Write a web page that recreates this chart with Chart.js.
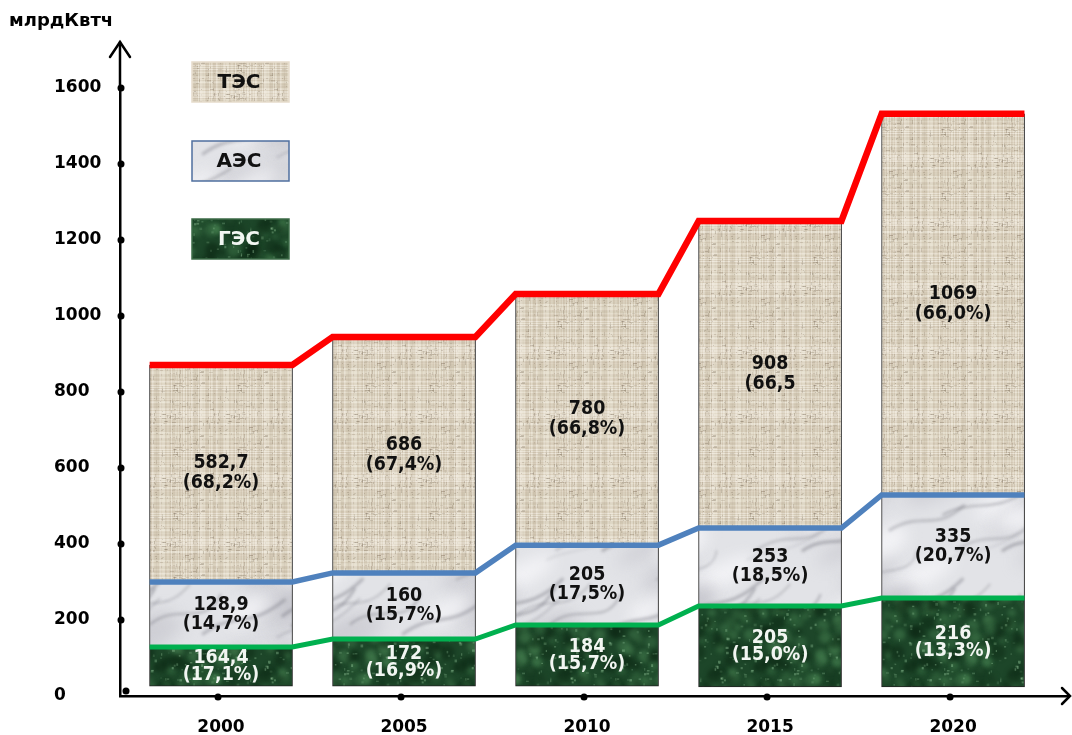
<!DOCTYPE html>
<html>
<head>
<meta charset="utf-8">
<script src="https://cdn.jsdelivr.net/npm/chart.js@4.4.0/dist/chart.umd.min.js"></script>
<style>
  html, body { margin: 0; padding: 0; background: #fff; }
</style>
</head>
<body>
<canvas id="myChart" width="1072" height="735"></canvas>
<script>
// categories
const years = ['2000', '2005', '2010', '2015', '2020'];

// stack boundaries as drawn in the picture (y axis units)
const barBase    = [26, 26, 26, 24, 24];
const hydroTop   = [129, 150, 187, 237, 258];
const nuclearTop = [300, 324, 397, 442, 529];
const thermalTop = [871, 945, 1058, 1250, 1532];

// texts written on the segments
const thermalValues = ['582,7', '686', '780', '908', '1069'];
const thermalShares = ['(68,2%)', '(67,4%)', '(66,8%)', '(66,5', '(66,0%)'];
const nuclearValues = ['128,9', '160', '205', '253', '335'];
const nuclearShares = ['(14,7%)', '(15,7%)', '(17,5%)', '(18,5%)', '(20,7%)'];
const hydroValues   = ['164,4', '172', '184', '205', '216'];
const hydroShares   = ['(17,1%)', '(16,9%)', '(15,7%)', '(15,0%)', '(13,3%)'];

const yTicks = [0, 200, 400, 600, 800, 1000, 1200, 1400, 1600];

const FONT = '"DejaVu Sans", Verdana, sans-serif';
const HALF = 0.39; // half bar width in category units

// ---- textures ----
let seed = 12345;
function rnd() {
    seed |= 0; seed = seed + 0x6D2B79F5 | 0;
    let t = Math.imul(seed ^ seed >>> 15, 1 | seed);
    t = t + Math.imul(t ^ t >>> 7, 61 | t) ^ t;
    return ((t ^ t >>> 14) >>> 0) / 4294967296;
}
function mk(w, h) {
    const c = document.createElement('canvas');
    c.width = w; c.height = h;
    return c;
}
// draw a shape 9 times so the tile wraps without seams
function wrapped(g, w, h, draw) {
    for (let dx = -w; dx <= w; dx += w) {
        for (let dy = -h; dy <= h; dy += h) {
            g.save();
            g.translate(dx, dy);
            draw();
            g.restore();
        }
    }
}
function linenTile() {
    const c = mk(64, 64), g = c.getContext('2d');
    g.fillStyle = '#dcd2bf';
    g.fillRect(0, 0, 64, 64);
    for (let y = 0; y < 64; y++) {
        if (rnd() < 0.5) g.fillStyle = 'rgba(255,253,246,' + (0.1 + rnd() * 0.3) + ')';
        else g.fillStyle = 'rgba(150,135,110,' + (0.03 + rnd() * 0.1) + ')';
        g.fillRect(0, y, 64, 1);
    }
    for (let x = 0; x < 64; x++) {
        if (rnd() < 0.5) g.fillStyle = 'rgba(255,253,246,' + (0.08 + rnd() * 0.25) + ')';
        else g.fillStyle = 'rgba(150,135,110,' + (0.03 + rnd() * 0.1) + ')';
        g.fillRect(x, 0, 1, 64);
    }
    for (let i = 0; i < 220; i++) {
        g.fillStyle = 'rgba(120,105,85,' + (0.08 + rnd() * 0.22) + ')';
        const horiz = rnd() < 0.5;
        g.fillRect(Math.floor(rnd() * 64), Math.floor(rnd() * 64), horiz ? 1 + Math.floor(rnd() * 4) : 1, horiz ? 1 : 1 + Math.floor(rnd() * 4));
    }
    return c;
}
function greyMarbleTile() {
    const W = 200, H = 160;
    const c = mk(W, H), g = c.getContext('2d');
    g.fillStyle = '#e2e3e7';
    g.fillRect(0, 0, W, H);
    g.filter = 'blur(8px)';
    for (let i = 0; i < 18; i++) {
        const col = rnd() < 0.5 ? 'rgba(195,195,203,0.55)' : 'rgba(250,250,252,0.75)';
        const x = rnd() * W, y = rnd() * H, rx = 15 + rnd() * 30, ry = 6 + rnd() * 12;
        wrapped(g, W, H, () => {
            g.fillStyle = col;
            g.beginPath();
            g.ellipse(x, y, rx, ry, -0.5, 0, Math.PI * 2);
            g.fill();
        });
    }
    g.filter = 'blur(1.5px)';
    for (let i = 0; i < 12; i++) {
        const col = 'rgba(105,105,115,' + (0.18 + rnd() * 0.3) + ')';
        const lw = 1 + rnd() * 3;
        const x0 = rnd() * W, y0 = rnd() * H;
        const k = [rnd(), rnd(), rnd(), rnd(), rnd(), rnd(), rnd()];
        wrapped(g, W, H, () => {
            g.strokeStyle = col;
            g.lineWidth = lw;
            g.beginPath();
            g.moveTo(x0, y0);
            g.bezierCurveTo(x0 + 20 + k[0] * 20, y0 - 10 - k[1] * 15, x0 + 40 + k[2] * 20, y0 - 5 + k[3] * 10, x0 + 60 + k[4] * 30, y0 - 25 - k[5] * 15);
            g.stroke();
        });
    }
    g.filter = 'none';
    return c;
}
function greenMarbleTile() {
    const W = 150, H = 150;
    const c = mk(W, H), g = c.getContext('2d');
    g.fillStyle = '#1d4629';
    g.fillRect(0, 0, W, H);
    g.filter = 'blur(2px)';
    const blob = (col, r0, r1, n) => {
        for (let i = 0; i < n; i++) {
            const a = col + (0.2 + rnd() * 0.3) + ')';
            const x = rnd() * W, y = rnd() * H, r = r0 + rnd() * r1;
            wrapped(g, W, H, () => {
                g.fillStyle = a;
                g.beginPath();
                g.arc(x, y, r, 0, Math.PI * 2);
                g.fill();
            });
        }
    };
    blob('rgba(75,135,85,', 2, 5, 140);
    blob('rgba(8,32,15,', 2, 6, 90);
    g.filter = 'none';
    for (let i = 0; i < 260; i++) {
        g.fillStyle = 'rgba(160,210,165,' + (0.12 + rnd() * 0.28) + ')';
        g.fillRect(rnd() * W, rnd() * H, 1 + rnd() * 2, 1 + rnd() * 2);
    }
    return c;
}

const ctx = document.getElementById('myChart').getContext('2d');
const linen = ctx.createPattern(linenTile(), 'repeat');
const marble = ctx.createPattern(greyMarbleTile(), 'repeat');
const jade = ctx.createPattern(greenMarbleTile(), 'repeat');

// ---- datasets ----
function floating(lo, hi) {
    return years.map((_, i) => ({ x: i, y: [lo[i], hi[i]] }));
}
function steps(top) {
    const pts = [];
    years.forEach((_, i) => {
        pts.push({ x: i - HALF, y: top[i] });
        pts.push({ x: i + HALF, y: top[i] });
    });
    return pts;
}

const barStyle = {
    type: 'bar',
    grouped: false,
    barThickness: 143,
    borderWidth: 1,
    borderColor: '#222',
    borderSkipped: false,
    order: 2
};
const lineStyle = {
    type: 'line',
    fill: false,
    tension: 0,
    pointRadius: 0,
    borderJoinStyle: 'miter',
    order: 1
};

const segments = [
    { values: hydroValues, shares: hydroShares, color: '#f2f6f2', gap: 17 },
    { values: nuclearValues, shares: nuclearShares, color: '#111', gap: 19 },
    { values: thermalValues, shares: thermalShares, color: '#111', gap: 20 }
];

const data = {
    datasets: [
        Object.assign({ label: 'ГЭС', data: floating(barBase, hydroTop), backgroundColor: jade }, barStyle),
        Object.assign({ label: 'АЭС', data: floating(hydroTop, nuclearTop), backgroundColor: marble }, barStyle),
        Object.assign({ label: 'ТЭС', data: floating(nuclearTop, thermalTop), backgroundColor: linen }, barStyle),
        Object.assign({ data: steps(hydroTop), borderColor: '#00b04f', borderWidth: 5 }, lineStyle),
        Object.assign({ data: steps(nuclearTop), borderColor: '#4f81bd', borderWidth: 5.5 }, lineStyle),
        Object.assign({ data: steps(thermalTop), borderColor: '#ff0000', borderWidth: 6.5 }, lineStyle)
    ]
};

// labels inside segments (slightly condensed, like the original)
const segmentLabels = {
    id: 'segmentLabels',
    afterDatasetsDraw(chart) {
        const c = chart.ctx;
        c.save();
        c.font = 'bold 19px ' + FONT;
        c.textAlign = 'center';
        c.textBaseline = 'middle';
        segments.forEach((seg, d) => {
            chart.getDatasetMeta(d).data.forEach((el, i) => {
                const p = el.getProps(['x', 'y', 'base'], true);
                const cy = (p.y + p.base) / 2;
                c.fillStyle = seg.color;
                c.save();
                c.translate(p.x, cy);
                c.scale(0.92, 1);
                c.fillText(seg.values[i], 0, -seg.gap / 2);
                c.fillText(seg.shares[i], 0, seg.gap / 2);
                c.restore();
            });
        });
        c.restore();
    }
};

// axis arrows, dots, unit text and legend boxes
const decorations = {
    id: 'decorations',
    afterDraw(chart) {
        const c = chart.ctx;
        const a = chart.chartArea;
        const xs = chart.scales.x, ys = chart.scales.y;
        c.save();
        c.strokeStyle = '#000';
        c.lineWidth = 2.5;
        c.lineCap = 'round';
        // y axis extension + arrow
        c.beginPath();
        c.moveTo(a.left, a.top);
        c.lineTo(a.left, 42);
        c.stroke();
        c.beginPath();
        c.moveTo(a.left - 10, 57);
        c.lineTo(a.left, 42);
        c.lineTo(a.left + 10, 57);
        c.stroke();
        // x axis arrow
        c.beginPath();
        c.moveTo(a.right - 6, a.bottom - 8);
        c.lineTo(a.right + 2, a.bottom);
        c.lineTo(a.right - 6, a.bottom + 8);
        c.stroke();
        // dots
        c.fillStyle = '#000';
        yTicks.forEach(v => {
            if (v === 0) return;
            c.beginPath();
            c.arc(a.left + 1, ys.getPixelForValue(v), 3.5, 0, Math.PI * 2);
            c.fill();
        });
        c.beginPath();
        c.arc(a.left + 6, a.bottom - 5, 3.5, 0, Math.PI * 2);
        c.fill();
        years.forEach((_, i) => {
            c.beginPath();
            c.arc(xs.getPixelForValue(i) - 3, a.bottom + 1, 3.5, 0, Math.PI * 2);
            c.fill();
        });
        // unit
        c.font = 'bold 18px ' + FONT;
        c.textAlign = 'left';
        c.textBaseline = 'middle';
        c.fillText('млрдКвтч', 9, 21);
        // legend
        const items = [
            { text: 'ТЭС', fill: linen, border: '#e6dccb', color: '#111', top: 62 },
            { text: 'АЭС', fill: marble, border: '#4f6f9f', color: '#111', top: 141 },
            { text: 'ГЭС', fill: jade, border: '#3d6b47', color: '#f2f6f2', top: 219 }
        ];
        c.font = 'bold 20px ' + FONT;
        items.forEach(it => {
            c.fillStyle = it.fill;
            c.fillRect(192, it.top, 97, 40);
            c.strokeStyle = it.border;
            c.lineWidth = 1.5;
            c.strokeRect(192, it.top, 97, 40);
            c.fillStyle = it.color;
            c.textAlign = 'center';
            c.fillText(it.text, 239, it.top + 21);
        });
        c.restore();
    }
};

const config = {
    data: data,
    options: {
        responsive: false,
        animation: false,
        layout: { padding: { left: 54, top: 88, right: 4, bottom: 0 } },
        plugins: {
            legend: { display: false },
            tooltip: { enabled: false }
        },
        scales: {
            x: {
                type: 'linear',
                offset: false,
                min: -0.552,
                max: 4.628,
                grid: { display: false, drawTicks: false, offset: false },
                border: { display: true, color: '#000', width: 2.5 },
                afterBuildTicks: (scale) => {
                    scale.ticks = years.map((_, i) => ({ value: i }));
                },
                afterFit: (scale) => { scale.height = 39; },
                ticks: {
                    autoSkip: false,
                    padding: 21,
                    maxRotation: 0,
                    color: '#000',
                    font: { family: FONT, size: 17, weight: 'bold' },
                    callback: (value, index) => years[index]
                }
            },
            y: {
                min: 0,
                max: 1600,
                grid: { display: false, drawTicks: false },
                border: { display: true, color: '#000', width: 2.5 },
                afterFit: (scale) => { scale.width = 66; },
                ticks: {
                    stepSize: 200,
                    crossAlign: 'far',
                    color: '#000',
                    font: { family: FONT, size: 17, weight: 'bold' },
                    callback: (value) => String(value)
                }
            }
        }
    },
    plugins: [segmentLabels, decorations]
};

const energyChart = new Chart(ctx, config);
</script>
</body>
</html>
